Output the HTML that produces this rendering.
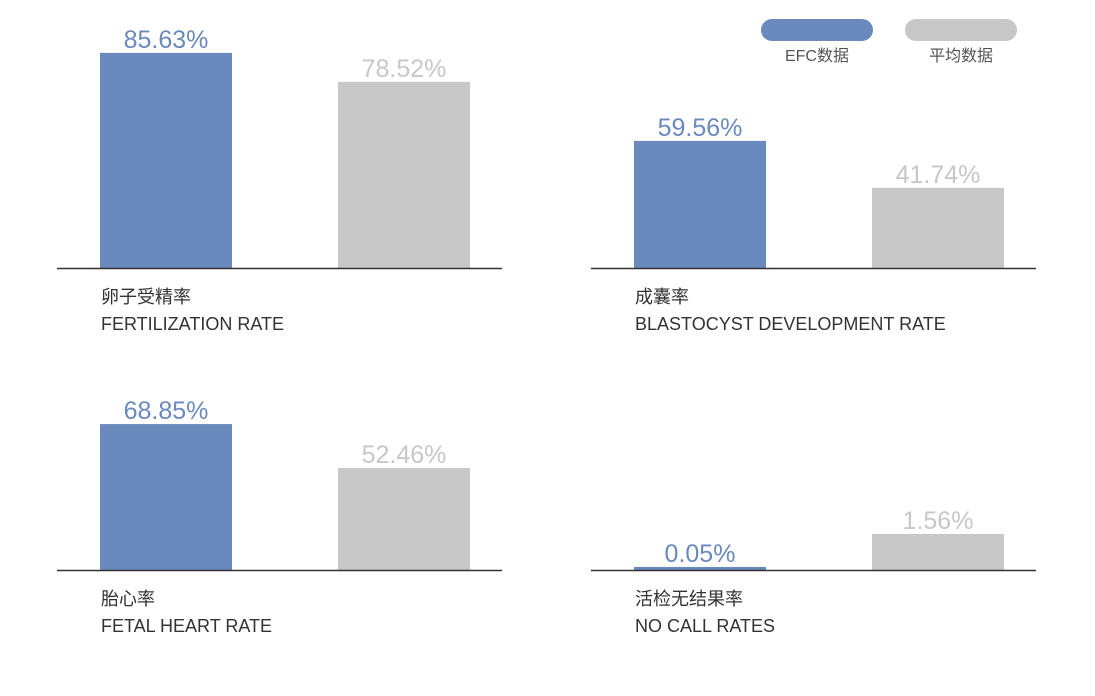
<!DOCTYPE html>
<html><head><meta charset="utf-8">
<style>
body{margin:0;width:1095px;height:691px;background:#fff;font-family:"Liberation Sans","Noto Sans CJK SC",sans-serif;overflow:hidden}
svg text{font-family:"Liberation Sans","Noto Sans CJK SC",sans-serif}
</style></head><body>
<svg id="c" width="1095" height="691"></svg>
<script>
const titlesCN = ["卵子受精率","成囊率","胎心率","活检无结果率"];
const titlesEN = ["FERTILIZATION RATE","BLASTOCYST DEVELOPMENT RATE","FETAL HEART RATE","NO CALL RATES"];
const efcValues = [85.63, 59.56, 68.85, 0.05];
const avgValues = [78.52, 41.74, 52.46, 1.56];
const seriesNames = ["EFC数据","平均数据"];

const NS="http://www.w3.org/2000/svg";
const svg=document.getElementById('c');
function mk(t,a,p){const e=document.createElementNS(NS,t);for(const k in a)e.setAttribute(k,a[k]);(p||svg).appendChild(e);return e;}
const panels=[
 {x:57,base:268,dmin:32.9,k:4.08},
 {x:591,base:268,dmin:11.4,k:2.64},
 {x:57,base:570,dmin:14.5,k:2.685},
 {x:591,base:570,dmin:-0.09,k:21.85}
];
const colors=["#6a89bd","#c8c7c8"];
panels.forEach((p,i)=>{
  const g=mk('g',{});
  
  
  const h=v=>Math.max(0,(v-p.dmin)*p.k);
  [efcValues[i],avgValues[i]].forEach((v,j)=>{
    const bx=p.x+43+j*238, bw=132, bh=h(v);
    const r=mk('rect',{x:bx,y:p.base-bh,width:bw,height:bh,fill:colors[j]},g);
    
    
    const t=mk('text',{x:bx+bw/2,y:p.base-bh-5,'text-anchor':'middle','font-size':25,fill:colors[j]},g);
    t.textContent=v.toFixed(2)+'%';
    
    
  });
  const l=mk('line',{x1:p.x,x2:p.x+445,y1:p.base+0.5,y2:p.base+0.5,stroke:'#333','stroke-width':1.5},g);
  
  
  const t1=mk('text',{x:p.x+44,y:p.base+35,'font-size':18,fill:'#333'},g);
  t1.textContent=titlesCN[i];
  
  
  const t2=mk('text',{x:p.x+44,y:p.base+62,'font-size':18,fill:'#333'},g);
  t2.textContent=titlesEN[i];
  
  
});
seriesNames.forEach((n,j)=>{
  const lx=761+j*144;
  const r=mk('rect',{x:lx,y:19,width:112,height:22,rx:11,fill:colors[j]});
  
  
  const t=mk('text',{x:lx+56,y:61,'text-anchor':'middle','font-size':16,fill:'#555'});
  t.textContent=n;
  
  
});
</script>
</body></html>
